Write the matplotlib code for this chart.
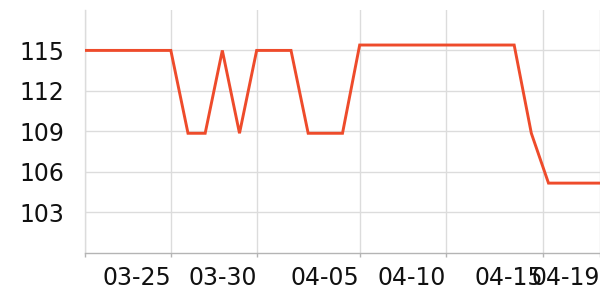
import matplotlib
matplotlib.use("Agg")
import matplotlib.pyplot as plt
from datetime import datetime

dates = ["03-20", "03-21", "03-22", "03-23", "03-24", "03-25", "03-26", "03-27",
         "03-28", "03-29", "03-30", "03-31", "04-01", "04-02", "04-03", "04-04",
         "04-05", "04-06", "04-07", "04-08", "04-09", "04-10", "04-11", "04-12",
         "04-13", "04-14", "04-15", "04-16", "04-17", "04-18", "04-19"]
values = [115, 115, 115, 115, 115, 115, 108.85, 108.85,
          115, 108.85, 115, 115, 115, 108.85, 108.85, 108.85,
          115.4, 115.4, 115.4, 115.4, 115.4, 115.4, 115.4, 115.4,
          115.4, 115.4, 108.85, 105.15, 105.15, 105.15, 105.15]
tick_dates = ["2024-03-20 00:00", "2024-03-25 00:00", "2024-03-30 00:00",
              "2024-04-05 00:00", "2024-04-10 00:00", "2024-04-15 16:00",
              "2024-04-19 00:00"]
tick_labels = ["", "03-25", "03-30", "04-05", "04-10", "04-15", "04-19"]
y_ticks = [103, 106, 109, 112, 115]
y_tick_labels = ["103", "106", "109", "112", "115"]

x = [datetime.strptime("2024-" + d, "%Y-%m-%d") for d in dates]
xt = [datetime.strptime(t, "%Y-%m-%d %H:%M") for t in tick_dates]

fig = plt.figure(figsize=(6, 3), dpi=100)
ax = fig.add_axes([85/600, 1 - 252.5/300, 1 - 85/600, (252.5 - 10)/300])

ax.plot(x, values, color="#EE4B2B", linewidth=2.1, solid_joinstyle="miter", zorder=3)

ax.set_xlim(x[0], x[-1])
ax.set_ylim(100, 118)

ax.set_xticks(xt)
ax.set_xticklabels(tick_labels, ha="right")
ax.set_yticks(y_ticks)
ax.set_yticklabels(y_tick_labels)

ax.grid(True, color="#dcdcdc", linewidth=1.0)
ax.set_axisbelow(True)

for s in ["top", "right"]:
    ax.spines[s].set_visible(False)
ax.spines["left"].set_color("#dcdcdc")
ax.spines["left"].set_linewidth(1.0)
ax.spines["bottom"].set_color("#b4b4b4")
ax.spines["bottom"].set_linewidth(1.0)

ax.tick_params(axis="y", length=0, pad=15, labelsize=17, labelcolor="#111111")
ax.tick_params(axis="x", length=3, width=1, color="#b4b4b4", pad=7,
               labelsize=17, labelcolor="#111111")

fig.savefig("out.png", dpi=100)
